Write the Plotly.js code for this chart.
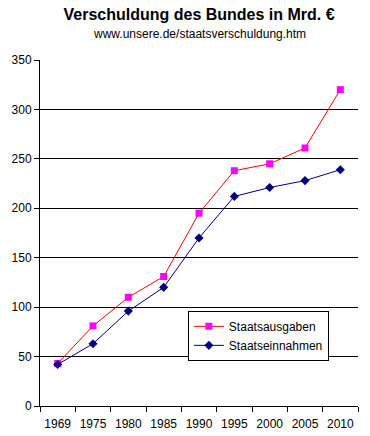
<!DOCTYPE html>
<html>
<head>
<meta charset="utf-8">
<script src="https://cdn.plot.ly/plotly-3.0.1.min.js"></script>
<style>html,body{margin:0;padding:0;background:#fff;}#chart{width:370px;height:436px;}</style>
</head>
<body>
<div id="chart"></div>
<script>
const years = ["1969", "1975", "1980", "1985", "1990", "1995", "2000", "2005", "2010"];
const staatsausgaben = [43, 81, 110, 131, 195, 238, 245, 261, 320];
const staatseinnahmen = [42, 63, 96, 120, 170, 212, 221, 228, 239];
const yTicks = [0, 50, 100, 150, 200, 250, 300, 350];

const font = "Arial, 'Liberation Sans', sans-serif";

const traces = [
  {
    x: years, y: staatsausgaben, name: "Staatsausgaben", type: "scatter", mode: "lines+markers",
    line: {color: "#FF0000", width: 1},
    marker: {symbol: "square", color: "#FF00FF", size: 7}
  },
  {
    x: years, y: staatseinnahmen, name: "Staatseinnahmen", type: "scatter", mode: "lines+markers",
    line: {color: "#000080", width: 1},
    marker: {symbol: "diamond", color: "#000080", size: 7}
  }
];

const layout = {
  width: 370, height: 436,
  margin: {l: 40, r: 12, t: 60, b: 30},
  paper_bgcolor: "#fff", plot_bgcolor: "#fff",
  font: {family: font, size: 12, color: "#000"},
  title: {
    text: "<b>Verschuldung des Bundes in Mrd. €</b>",
    font: {family: font, size: 16, color: "#000"},
    x: 0.538, xanchor: "center", y: 0.968, yanchor: "middle"
  },
  annotations: [{
    text: "www.unsere.de/staatsverschuldung.htm",
    xref: "paper", yref: "paper", x: 0.5, y: 1.075,
    xanchor: "center", yanchor: "middle", showarrow: false,
    font: {family: font, size: 12, color: "#000"}
  }],
  xaxis: {
    type: "category", range: [-0.5, 8.5],
    showgrid: false, zeroline: false,
    showline: true, linecolor: "#000", linewidth: 1,
    ticks: "outside", tickson: "boundaries", ticklen: 5, tickcolor: "#000",
    tickangle: 0, ticklabelstandoff: 7,
    tickfont: {family: font, size: 12, color: "#000"}
  },
  yaxis: {
    range: [0, 350], tickvals: yTicks,
    showgrid: true, gridcolor: "#000", gridwidth: 1,
    zeroline: false,
    showline: true, linecolor: "#000", linewidth: 1,
    ticks: "outside", ticklen: 5, tickcolor: "#000",
    tickfont: {family: font, size: 12, color: "#000"}
  },
  showlegend: true,
  legend: {
    x: 0.465, y: 0.275, xanchor: "left", yanchor: "top",
    bgcolor: "#fff", bordercolor: "#000", borderwidth: 1,
    font: {family: font, size: 12, color: "#000"},
    tracegroupgap: 0
  }
};

Plotly.newPlot("chart", traces, layout, {displayModeBar: false, staticPlot: true});
</script>
</body>
</html>
